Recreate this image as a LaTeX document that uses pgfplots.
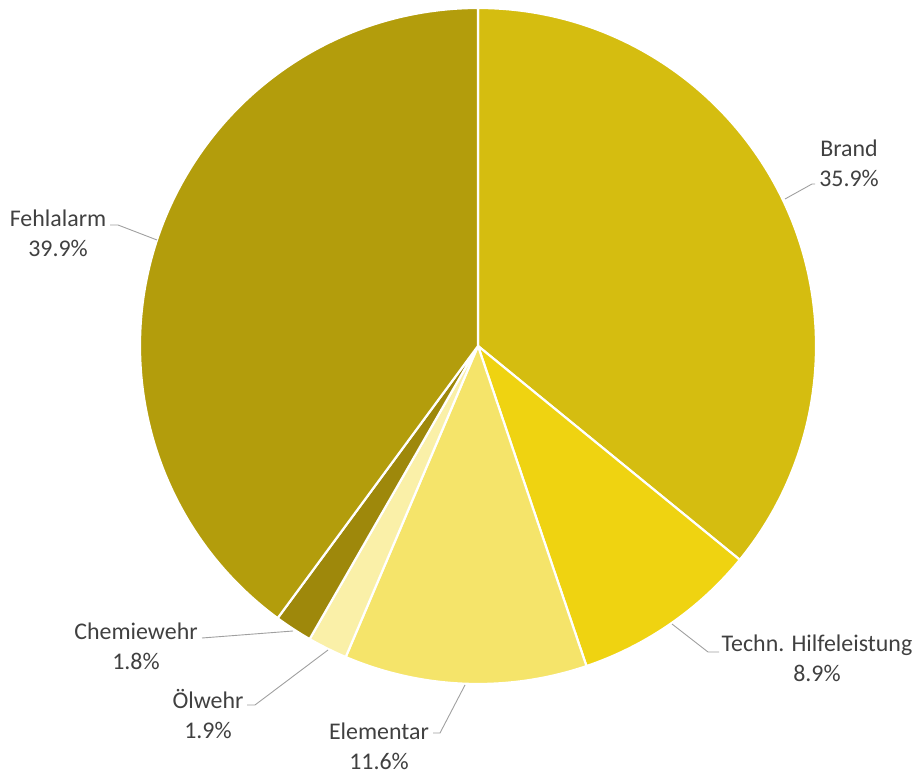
\documentclass[border=0pt]{standalone}
\usepackage{pgfplots}
\pgfplotsset{compat=1.18}
\usepackage{fontspec}
\setmainfont{Carlito}
\definecolor{cBrand}{HTML}{D5BD10}
\definecolor{cTech}{HTML}{EFD311}
\definecolor{cElem}{HTML}{F5E46A}
\definecolor{cOel}{HTML}{FAF0A8}
\definecolor{cChem}{HTML}{9E880B}
\definecolor{cFehl}{HTML}{B39D0C}
\definecolor{txt}{HTML}{404040}
\definecolor{lead}{HTML}{A0A0A0}
% shares in percent
\def\vBrand{35.9}
\def\vTech{8.9}
\def\vElem{11.6}
\def\vOel{1.9}
\def\vChem{1.8}
\def\vFehl{39.9}
\pgfmathsetmacro\aA{90}
\pgfmathsetmacro\aB{\aA-3.6*\vBrand}
\pgfmathsetmacro\aC{\aB-3.6*\vTech}
\pgfmathsetmacro\aD{\aC-3.6*\vElem}
\pgfmathsetmacro\aE{\aD-3.6*\vOel}
\pgfmathsetmacro\aF{\aE-3.6*\vChem}
\pgfmathsetmacro\aG{\aF-3.6*\vFehl}
\def\R{338}
\newcommand\slice[3]{%
  \filldraw[fill=#1, draw=white, line width=2.2bp, line join=round]
    (axis cs:0,0) -- (axis cs:{\R*cos(#2)},{\R*sin(#2)})
    arc[start angle=#2, end angle=#3, radius=\R bp] -- cycle;}
\begin{document}
\begin{tikzpicture}
\begin{axis}[x=1bp, y=1bp, xmin=-478, xmax=441, ymin=-430, ymax=346,
  hide axis, clip=false]
\path (axis cs:-478,-430) rectangle (axis cs:441,346);
\slice{cBrand}{\aA}{\aB}
\slice{cTech}{\aB}{\aC}
\slice{cElem}{\aC}{\aD}
\slice{cOel}{\aD}{\aE}
\slice{cChem}{\aE}{\aF}
\slice{cFehl}{\aF}{\aG}
% leader lines
\draw[lead, line width=0.9bp] (axis cs:307,147) -- (axis cs:334,162) -- (axis cs:337,162);
\draw[lead, line width=0.9bp] (axis cs:194,-278) -- (axis cs:230,-306) -- (axis cs:241,-306);
\draw[lead, line width=0.9bp] (axis cs:-13,-339) -- (axis cs:-38,-387) -- (axis cs:-45,-387);
\draw[lead, line width=0.9bp] (axis cs:-150,-304) -- (axis cs:-223,-359) -- (axis cs:-231,-359);
\draw[lead, line width=0.9bp] (axis cs:-185,-285) -- (axis cs:-276,-292);
\draw[lead, line width=0.9bp] (axis cs:-321,106) -- (axis cs:-360,121) -- (axis cs:-368,121);
% labels
\tikzset{lbl/.style={align=center, text=txt, font=\fontsize{24}{30}\selectfont, inner sep=0pt}}
\node[lbl] at (axis cs:371,183) {Brand\\35.9\%};
\node[lbl] at (axis cs:339,-312) {Techn. Hilfeleistung\\8.9\%};
\node[lbl] at (axis cs:-99,-400) {Elementar\\11.6\%};
\node[lbl] at (axis cs:-270,-368) {Ölwehr\\1.9\%};
\node[lbl] at (axis cs:-342,-300) {Chemiewehr\\1.8\%};
\node[lbl] at (axis cs:-420,113) {Fehlalarm\\39.9\%};
\end{axis}
\end{tikzpicture}
\end{document}
